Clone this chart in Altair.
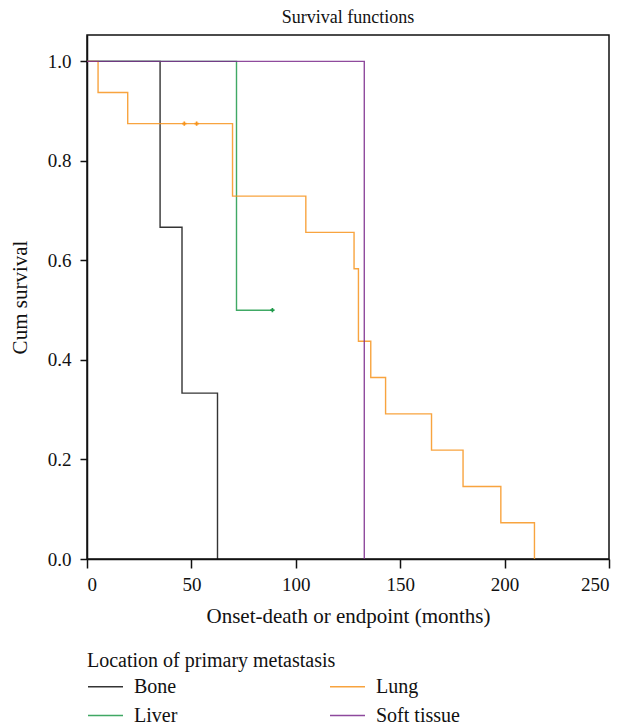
import altair as alt
import pandas as pd

# Kaplan-Meier step data
bone_t = [0, 35, 45.5, 62.5]
bone_s = [1.0, 0.6667, 0.3333, 0.0]

liver_t = [0, 71.6, 88.8]
liver_s = [1.0, 0.5, 0.5]

lung_t = [0, 5.3, 19.5, 69.7, 104.8, 127.9, 130.0, 135.9, 143.0, 165.0, 180.1, 198.2, 214.3]
lung_s = [1.0, 0.9375, 0.875, 0.7292, 0.6563, 0.5833, 0.4375, 0.3646, 0.2917, 0.2188, 0.1458, 0.0729, 0.0]

soft_t = [0, 132.8]
soft_s = [1.0, 0.0]

# censored observations
cens_group = ["Lung", "Lung", "Liver"]
cens_t = [46.6, 52.5, 88.8]
cens_s = [0.875, 0.875, 0.5]

groups = ["Bone", "Liver", "Lung", "Soft tissue"]
colors = ["#111111", "#1f9a4a", "#f7941d", "#7b2a8c"]

rows = []
for name, ts, ss in [("Bone", bone_t, bone_s), ("Liver", liver_t, liver_s),
                     ("Lung", lung_t, lung_s), ("Soft tissue", soft_t, soft_s)]:
    for i, (t, s) in enumerate(zip(ts, ss)):
        rows.append({"group": name, "t": t, "s": s, "i": i})
df = pd.DataFrame(rows)
cdf = pd.DataFrame({"group": cens_group, "t": cens_t, "s": cens_s})

FONT = "Liberation Serif"

color = alt.Color(
    "group:N",
    scale=alt.Scale(domain=groups, range=colors),
    legend=alt.Legend(
        title="Location of primary metastasis",
        orient="none",
        legendX=0,
        legendY=616,
        columns=2,
        columnPadding=149,
        rowPadding=-11,
        symbolType="stroke",
        symbolSize=1225,
        symbolStrokeWidth=1.5,
        labelOffset=10,
        titlePadding=-3,
        titleLimit=600,
        labelLimit=300,
        padding=0,
    ),
)

xs = alt.Scale(domain=[0, 250], nice=False, zero=False)
ys = alt.Scale(domain=[0, 1.053], nice=False)

lines = alt.Chart(df).mark_line(interpolate="step-after", strokeWidth=1.4, opacity=0.85).encode(
    x=alt.X("t:Q", scale=xs, title="Onset-death or endpoint (months)",
            axis=alt.Axis(values=[0, 50, 100, 150, 200, 250])),
    y=alt.Y("s:Q", scale=ys, title="Cum survival",
            axis=alt.Axis(values=[0, 0.2, 0.4, 0.6, 0.8, 1.0], format=".1f")),
    color=color,
    order="i:Q",
)

cens = alt.Chart(cdf).mark_point(shape="cross", filled=True, size=18, opacity=1).encode(
    x=alt.X("t:Q", scale=xs),
    y=alt.Y("s:Q", scale=ys),
    color=alt.Color("group:N", scale=alt.Scale(domain=groups, range=colors), legend=None),
)

chart = (
    alt.layer(lines, cens)
    .resolve_scale(color="independent")
    .properties(
        width=522,
        height=524,
        title=alt.TitleParams("Survival functions", font=FONT, fontSize=18,
                              fontWeight="normal", color="#111", offset=8),
        autosize=alt.AutoSizeParams(type="none"),
        padding={"left": 79, "top": 27, "right": 20, "bottom": 169},
    )
    .configure_view(stroke="#111", strokeWidth=1.5)
    .configure_axis(
        grid=False,
        domainColor="#111",
        domainWidth=1.5,
        tickColor="#111",
        tickWidth=1.5,
        labelFont=FONT,
        labelFontSize=19,
        labelColor="#111",
        titleFont=FONT,
        titleFontSize=21,
        titleFontWeight="normal",
        titleColor="#111",
    )
    .configure_axisX(tickSize=9, labelPadding=7, titlePadding=11)
    .configure_axisY(tickSize=7, labelPadding=9, titlePadding=17)
    .configure_legend(
        titleFont=FONT, titleFontSize=20, titleFontWeight="normal", titleColor="#111",
        labelFont=FONT, labelFontSize=20, labelColor="#111",
    )
)

chart.save("out.html", embed_options={"renderer": "svg", "actions": False})
